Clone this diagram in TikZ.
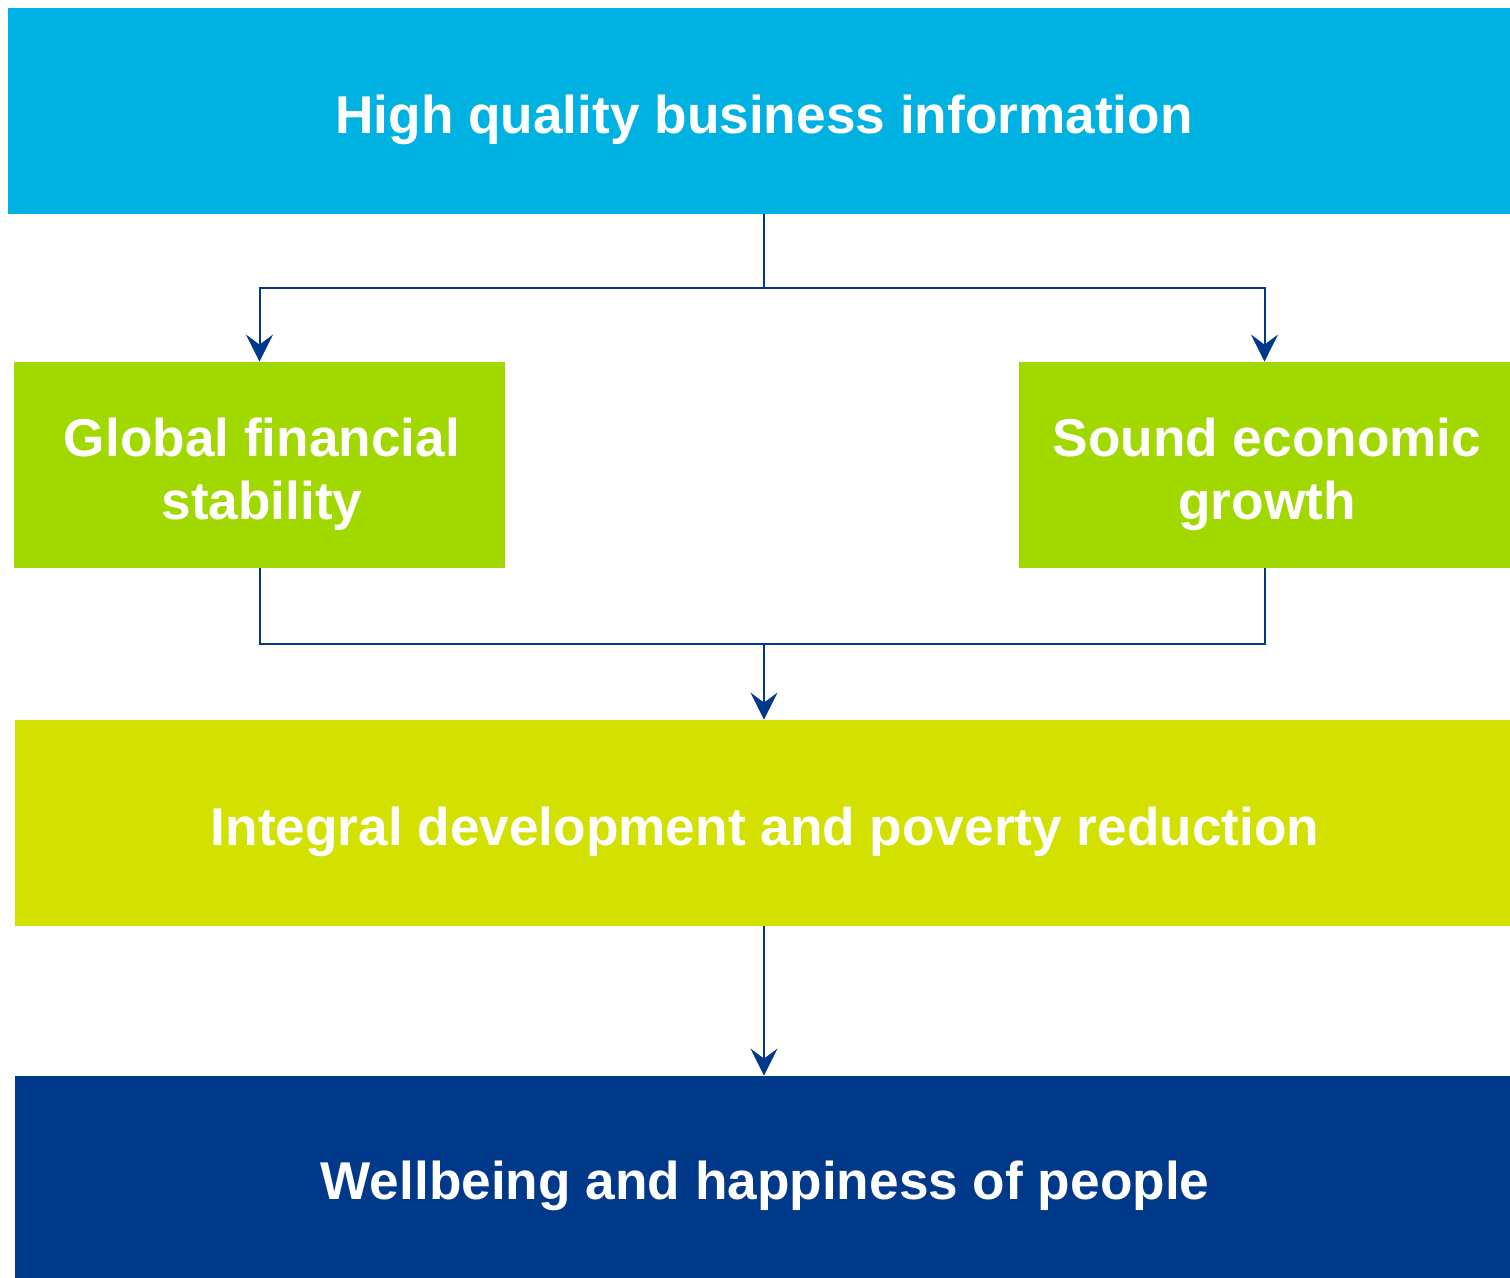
\documentclass[tikz,border=0pt]{standalone}
\usepackage{fontspec}
\setmainfont{Liberation Sans}
\usetikzlibrary{arrows.meta}

\definecolor{infoblue}{RGB}{0,178,226}
\definecolor{limegreen}{RGB}{160,216,0}
\definecolor{paleyellow}{RGB}{210,225,0}
\definecolor{navy}{RGB}{0,56,138}

\begin{document}
\begin{tikzpicture}[x=0.5pt, y=-0.5pt,
    box/.style={inner sep=0pt, minimum height=103pt},
    boxtext/.style={inner sep=0pt, text=white, align=center, xshift=1.25pt, yshift=-4.5pt,
        font=\fontsize{26.6}{31.5}\selectfont\bfseries},
    link/.style={draw=navy, line width=1pt},
    arr/.style={link, -{Stealth[length=13.5pt, width=13.5pt, inset=5pt]}}]

    % Canvas
    \useasboundingbox (0,0) rectangle (1510,1278);

    % Boxes
    \node[box, fill=infoblue, minimum width=751pt,
        label={[boxtext, xshift=1.25pt]center:High quality business information}] (info) at (759,111) {};
    \node[box, fill=limegreen, minimum width=245.5pt,
        label={[boxtext]center:Global financial\\stability}] (gfs) at (259.5,465) {};
    \node[box, fill=limegreen, minimum width=245.5pt,
        label={[boxtext]center:Sound economic\\growth}] (seg) at (1264.5,465) {};
    \node[box, fill=paleyellow, minimum width=747.5pt,
        label={[boxtext]center:Integral development and poverty reduction}] (idp) at (762.5,823) {};
    \node[box, fill=navy, minimum width=747.5pt, minimum height=101pt,
        label={[boxtext]center:Wellbeing and happiness of people}] (wbp) at (762.5,1177) {};

    % Branch points
    \coordinate (split) at (764,288);
    \coordinate (join) at (764,644);

    % Connectors
    \draw[link] (info.south -| split) -- (split);
    \draw[arr] (split) -| (gfs);
    \draw[arr] (split) -| (seg);
    \draw[link] (gfs) |- (join);
    \draw[link] (seg) |- (join);
    \draw[arr] (join) -- (idp.north -| join);
    \draw[arr] (idp.south -| join) -- (wbp.north -| join);

\end{tikzpicture}
\end{document}
